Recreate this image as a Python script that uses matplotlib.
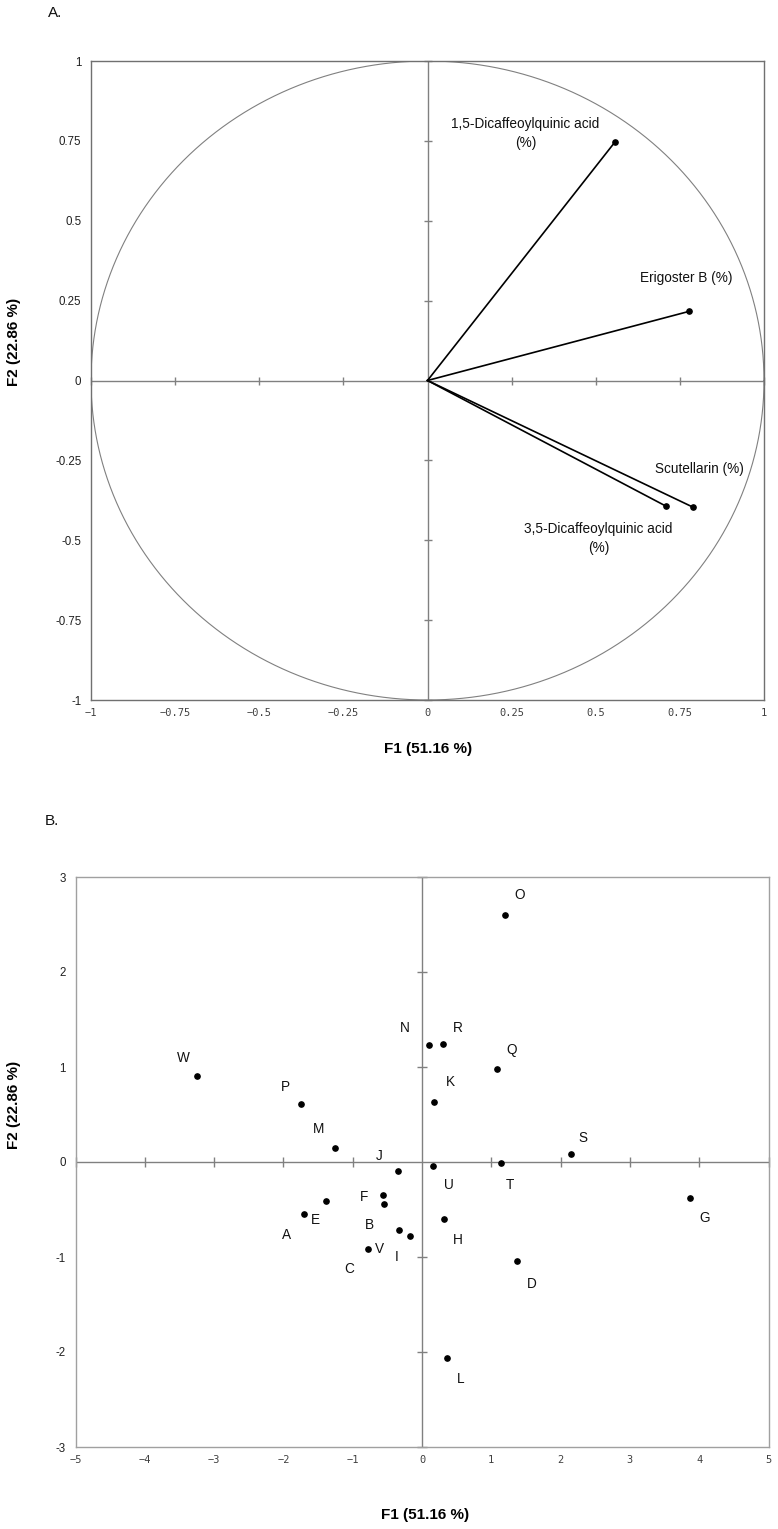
import numpy as np
import matplotlib
matplotlib.use("Agg")
import matplotlib.pyplot as plt

plt.rcParams['font.family'] = ['Liberation Sans', 'DejaVu Sans']

# ---------------- data ----------------
# Panel A: correlation circle (variables)
var_names = ['1,5-Dicaffeoylquinic acid\n(%)', 'Erigoster B (%)',
             'Scutellarin (%)', '3,5-Dicaffeoylquinic acid\n(%)']
var_f1 = [0.556, 0.776, 0.790, 0.710]
var_f2 = [0.745, 0.216, -0.397, -0.394]

# Panel B: observations
obs_names = ['W', 'P', 'M', 'J', 'N', 'R', 'O', 'Q', 'K', 'U', 'T', 'S',
             'G', 'D', 'L', 'H', 'F', 'B', 'E', 'A', 'C', 'V', 'I']
obs_f1 = [-3.247, -1.746, -1.255, -0.346, 0.101, 0.303, 1.198, 1.082, 0.173,
          0.159, 1.140, 2.150, 3.867, 1.371, 0.361, 0.317, -0.563, -0.548,
          -1.385, -1.703, -0.779, -0.332, -0.173]
obs_f2 = [0.905, 0.611, 0.147, -0.095, 1.232, 1.242, 2.600, 0.979, 0.632,
          -0.042, -0.011, 0.084, -0.379, -1.042, -2.063, -0.600, -0.347, -0.442,
          -0.411, -0.547, -0.916, -0.716, -0.779]

xticks_a = [-1, -0.75, -0.5, -0.25, 0, 0.25, 0.5, 0.75, 1]
yticks_a = [-1, -0.75, -0.5, -0.25, 0, 0.25, 0.5, 0.75, 1]
xticks_b = [-5, -4, -3, -2, -1, 0, 1, 2, 3, 4, 5]
yticks_b = [-3, -2, -1, 0, 1, 2, 3]

xlabel = 'F1 (51.16 %)'
ylabel = 'F2 (22.86 %)'

# ---------------- style / layout ----------------
# label offsets (pixels, +x right, +y down) relative to marks
var_label_off = [(-89, -9), (-2, -33), (6, -38), (-68, 32)]
obs_label_off = {'W': (-14, -18), 'P': (-16, -17), 'M': (-16, -19), 'J': (-19, -15),
                 'N': (-24, -17), 'R': (15, -16), 'O': (15, -20), 'Q': (15, -19),
                 'K': (16, -20), 'U': (16, 19), 'T': (9, 22), 'S': (12, -16),
                 'G': (15, 20), 'D': (15, 23), 'L': (14, 21), 'H': (14, 21),
                 'F': (-19, 2), 'B': (-15, 21), 'E': (-11, 19), 'A': (-17, 21),
                 'C': (-19, 20), 'V': (-19, 19), 'I': (-13, 21)}

W, H = 778, 1529
fig = plt.figure(figsize=(W / 100, H / 100), dpi=100)

zero_col = '#808080'
px2pt = 0.72


def ax_rect(l, t, r, b):
    return [l / W, (H - b) / H, (r - l) / W, (b - t) / H]


def style_axes(ax, xt, yt, xlim, ylim, tick_len, frame_col):
    ax.set_xlim(*xlim)
    ax.set_ylim(*ylim)
    for s in ax.spines.values():
        s.set_color(frame_col)
        s.set_linewidth(1.0)
    ax.set_xticks(xt)
    ax.set_yticks(yt)
    ax.set_xticklabels([('%g' % v).replace('-', '\u2212') for v in xt],
                       family='DejaVu Sans Mono', fontsize=7.5, color='#404040')
    ax.set_yticklabels(['%g' % v for v in yt], fontsize=8.3, color='#202020')
    ax.tick_params(length=0, pad=7)
    ax.tick_params(axis='x', pad=6)
    ax.axhline(0, color=zero_col, lw=1.0, zorder=1)
    ax.axvline(0, color=zero_col, lw=1.0, zorder=1)
    # tick marks on zero lines
    xt_nz = [v for v in xt if v != 0]
    yt_nz = [v for v in yt if v != 0]
    ax.plot(xt_nz, [0] * len(xt_nz), ls='none', marker='|', ms=tick_len,
            color=zero_col, mew=1.0, zorder=1, clip_on=False)
    ax.plot([0] * len(yt_nz), yt_nz, ls='none', marker='_', ms=tick_len,
            color=zero_col, mew=1.0, zorder=1, clip_on=False)


# ---------------- Panel A ----------------
axA = fig.add_axes(ax_rect(91, 61, 764, 700))
style_axes(axA, xticks_a, yticks_a, (-1, 1), (-1, 1), 6, '#707070')
th = np.linspace(0, 2 * np.pi, 721)
axA.plot(np.cos(th), np.sin(th), color='#808080', lw=0.8, zorder=2)
for name, x, y, (dx, dy) in zip(var_names, var_f1, var_f2, var_label_off):
    axA.plot([0, x], [0, y], color='black', lw=1.2, zorder=3)
    axA.plot([x], [y], 'o', color='black', ms=3.8, zorder=4)
    axA.annotate(name, (x, y), xytext=(dx * px2pt, -dy * px2pt),
                 textcoords='offset points', ha='center', va='center',
                 fontsize=9.8, color='#111111', linespacing=1.4)

# ---------------- Panel B ----------------
axB = fig.add_axes(ax_rect(75.5, 877, 768.5, 1447))
style_axes(axB, xticks_b, yticks_b, (-5, 5), (-3, 3), 7, '#a0a0a0')
axB.plot(obs_f1, obs_f2, 'o', ls='none', color='black', ms=3.8, zorder=4)
for name, x, y in zip(obs_names, obs_f1, obs_f2):
    dx, dy = obs_label_off[name]
    axB.annotate(name, (x, y), xytext=(dx * px2pt, -dy * px2pt),
                 textcoords='offset points', ha='center', va='center',
                 fontsize=9.8, color='#111111')

# ---------------- figure texts ----------------
def ftext(x, y, s, **kw):
    fig.text(x / W, 1 - y / H, s, **kw)


ftext(48, 13, 'A.', ha='left', va='center', fontsize=11, color='#111111')
ftext(45, 821, 'B.', ha='left', va='center', fontsize=11, color='#111111')
ftext(428, 749, xlabel, ha='center', va='center', fontsize=11, fontweight='bold')
ftext(425, 1515, xlabel, ha='center', va='center', fontsize=11, fontweight='bold')
ftext(14, 342, ylabel, ha='center', va='center', fontsize=11, fontweight='bold',
      rotation=90)
ftext(14, 1105, ylabel, ha='center', va='center', fontsize=11, fontweight='bold',
      rotation=90)

fig.savefig('out.png', dpi=100)
